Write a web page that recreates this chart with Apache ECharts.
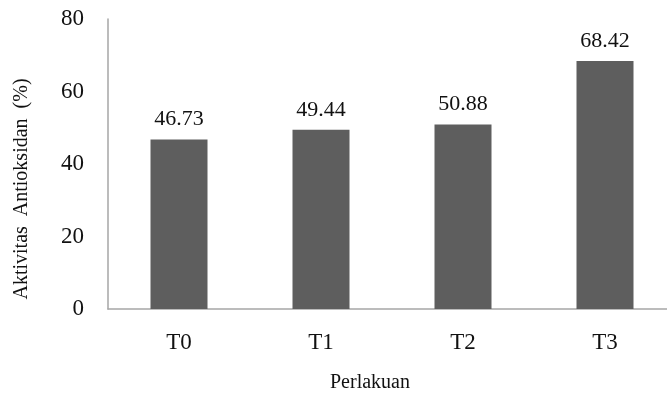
<!DOCTYPE html>
<html>
<head>
<meta charset="utf-8">
<script src="https://cdn.jsdelivr.net/npm/echarts@6/dist/echarts.min.js"></script>
<style>html,body{margin:0;padding:0;background:#fff;overflow:hidden}#c{width:690px;height:400px}</style>
</head>
<body>
<div id="c"></div>
<script>
const categories = ['T0', 'T1', 'T2', 'T3'];
const values = [46.73, 49.44, 50.88, 68.42];
const yTicks = [0, 20, 40, 60, 80];
const xTitle = 'Perlakuan';
const yTitle = 'Aktivitas  Antioksidan  (%)';

const font = '"Liberation Serif", "Times New Roman", serif';
const chart = echarts.init(document.getElementById('c'));
chart.setOption({
  animation: false,
  backgroundColor: '#fff',
  grid: { left: 108, top: 19, width: 568, height: 290, containLabel: false },
  xAxis: {
    type: 'category',
    data: categories,
    axisLine: { lineStyle: { color: '#a6a6a6', width: 1.5 } },
    axisTick: { show: false },
    axisLabel: { color: '#111', fontFamily: font, fontSize: 23, margin: 22 }
  },
  yAxis: {
    type: 'value',
    min: yTicks[0], max: yTicks[yTicks.length - 1], interval: 20,
    axisLine: { show: true, lineStyle: { color: '#a6a6a6', width: 1.5 } },
    axisTick: { show: false },
    splitLine: { show: false },
    axisLabel: { color: '#111', fontFamily: font, fontSize: 23, margin: 24 }
  },
  graphic: [
    { type: 'text', left: 330, top: 373, style: { text: xTitle, font: '20px ' + font, fill: '#111' } },
    { type: 'text', x: 22, y: 189, rotation: Math.PI / 2,
      style: { text: yTitle, font: '20px ' + font, fill: '#111', textAlign: 'center', textVerticalAlign: 'middle' } }
  ],
  series: [{
    type: 'bar',
    data: values,
    barWidth: 57,
    itemStyle: { color: '#5e5e5e' },
    label: { show: true, position: 'top', distance: 9, color: '#111', fontFamily: font, fontSize: 22,
      formatter: p => p.value.toFixed(2) }
  }]
});
</script>
</body>
</html>
